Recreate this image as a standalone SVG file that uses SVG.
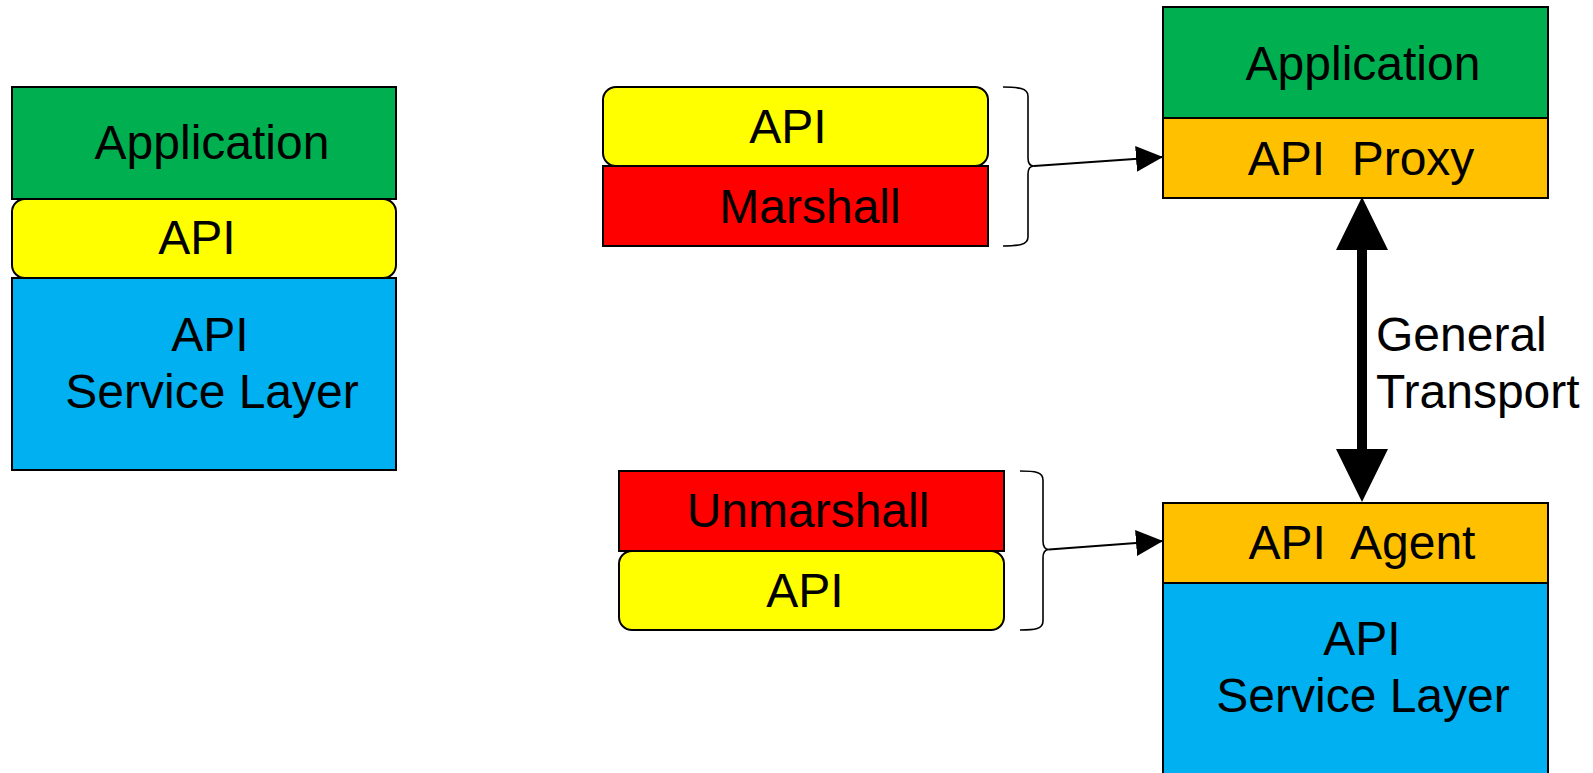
<svg xmlns="http://www.w3.org/2000/svg" width="1593" height="773" viewBox="0 0 1593 773">
<style>
.box{stroke:#000;stroke-width:2}
.green{fill:#00B050}.yellow{fill:#FFFF00}.blue{fill:#00B0F0}.orange{fill:#FFC000}.red{fill:#FF0000}
text{font-family:"Liberation Sans",Arial,sans-serif;font-size:48px;fill:#000;text-anchor:middle}
.brace{fill:none;stroke:#000;stroke-width:1.6}
.conn{fill:none;stroke:#000;stroke-width:2}
</style>
<defs>
<marker id="ah" markerUnits="userSpaceOnUse" markerWidth="28" markerHeight="28" viewBox="0 0 28 28" refX="27" refY="13" orient="auto">
<path d="M0,0 L27,13 L0,26 z" fill="#000"/>
</marker>
</defs>
<rect width="1593" height="773" fill="#fff"/>
<g id="left-stack">
<g id="left-application"><rect class="box green" x="12" y="87" width="384" height="112"/><text x="212" y="159">Application</text></g>
<g id="left-api"><rect class="box yellow" x="12" y="199" width="384" height="79" rx="13"/><text x="197" y="254">API</text></g>
<g id="left-service"><rect class="box blue" x="12" y="278" width="384" height="192"/><text x="210" y="351">API</text><text x="212" y="408">Service Layer</text></g>
</g>
<g id="marshall-stack">
<g id="mid-api-top"><rect class="box yellow" x="603" y="87" width="385" height="79" rx="13"/><text x="788" y="143">API</text></g>
<g id="marshall"><rect class="box red" x="603" y="166" width="385" height="80"/><text x="810" y="223">Marshall</text></g>
</g>
<g id="unmarshall-stack">
<g id="unmarshall"><rect class="box red" x="619" y="471" width="385" height="80"/><text x="808" y="527">Unmarshall</text></g>
<g id="mid-api-bottom"><rect class="box yellow" x="619" y="551" width="385" height="79" rx="13"/><text x="805" y="607">API</text></g>
</g>
<g id="right-top-stack">
<g id="right-application"><rect class="box green" x="1163" y="7" width="385" height="111"/><text x="1363" y="80">Application</text></g>
<g id="api-proxy"><rect class="box orange" x="1163" y="118" width="385" height="80"/><text x="1361" y="175" xml:space="preserve">API  Proxy</text></g>
</g>
<g id="right-bottom-stack">
<g id="api-agent"><rect class="box orange" x="1163" y="503" width="385" height="80"/><text x="1362" y="559" xml:space="preserve">API  Agent</text></g>
<g id="right-service"><rect class="box blue" x="1163" y="583" width="385" height="200"/><text x="1362" y="655">API</text><text x="1363" y="712">Service Layer</text></g>
</g>
<g id="connectors">
<path class="brace" d="M1003,87 C1018,87 1028,88 1028,96 L1028,158 C1028,163 1030,166 1034,166 C1030,166 1028,169 1028,174 L1028,237 C1028,245 1018,246 1003,246"/>
<path class="brace" d="M1020,471 C1035,471 1043,472 1043,480 L1043,541 C1043,546 1045,549.5 1049,549.5 C1045,549.5 1043,553 1043,558 L1043,621 C1043,629 1035,630 1020,630"/>
<line class="conn" x1="1034" y1="166" x2="1163" y2="157" marker-end="url(#ah)"/>
<line class="conn" x1="1049" y1="549.5" x2="1163" y2="541" marker-end="url(#ah)"/>
<polygon id="transport-arrow" points="1362,197 1388,250 1367,250 1367,449 1388,449 1362,502 1336,449 1357,449 1357,250 1336,250" fill="#000"/>
<text x="1376" y="351" style="text-anchor:start">General</text>
<text x="1376" y="408" style="text-anchor:start">Transport</text>
</g>
</svg>
